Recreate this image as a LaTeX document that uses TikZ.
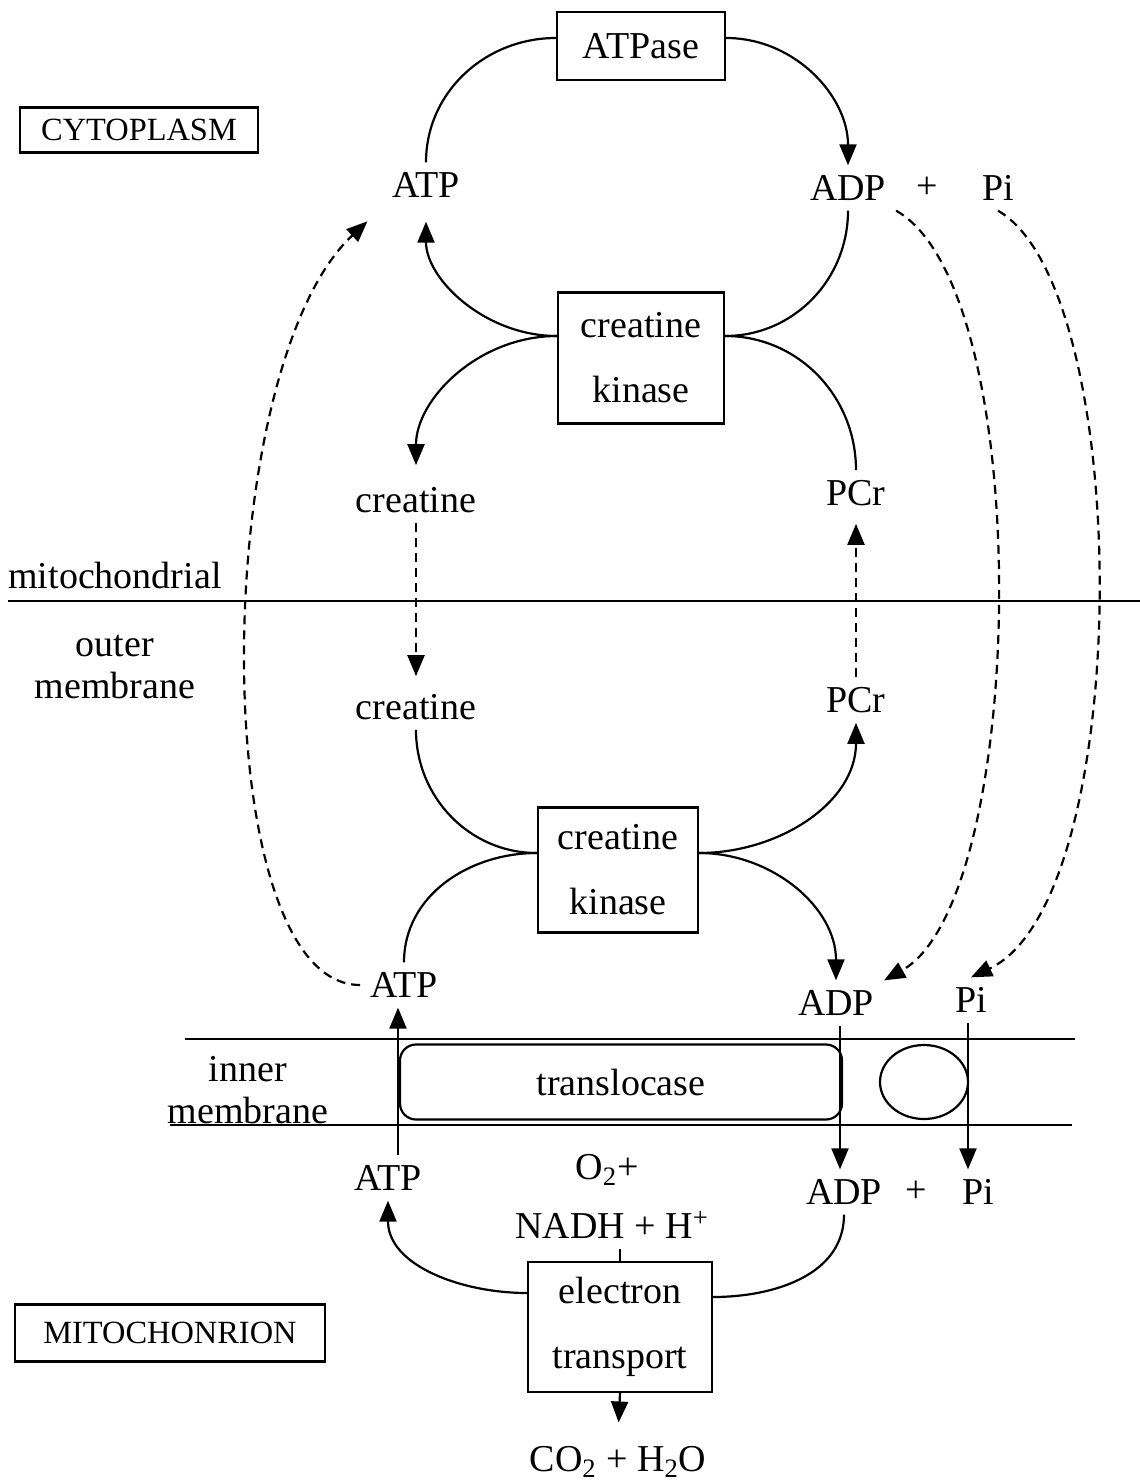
\documentclass[tikz,border=0pt]{standalone}
\usepackage{fontspec}
\setmainfont{Liberation Serif}
\usetikzlibrary{positioning, shapes.geometric, arrows.meta}

\begin{document}
\begin{tikzpicture}[
        x=0.5pt, y=-0.5pt,
        line width=1.1pt,
        every node/.style={font=\fontsize{19}{22}\selectfont},
        chem/.style={inner sep=4.5pt},
        enzyme/.style={rectangle, draw, align=center, font=\fontsize{19}{32.5}\selectfont},
        region/.style={rectangle, draw, font=\fontsize{16.2}{19}\selectfont},
        side/.style={align=center, font=\fontsize{19}{21}\selectfont},
        flow/.style={-{Triangle[length=10.5pt,width=8.5pt]}},
        dflow/.style={flow, dash pattern=on 4.5pt off 3pt},
    ]
        \useasboundingbox (0,0) rectangle (1140,1483);

        % Cytoplasm
        \node[region, minimum width=119pt, minimum height=22.5pt] (cyto) at (139,130) {CYTOPLASM};
        \node[enzyme, minimum width=84pt, minimum height=34pt] (atpase) at (641,46) {ATPase};
        \node[chem] (atpT) at (426,185) {ATP};
        \node[chem] (adpT) at (848,188) {ADP};
        \node[chem] (plusT) at (927,188) {+};
        \node[chem] (piT) at (998,188) {Pi};
        \node[enzyme, minimum width=83pt, minimum height=65.5pt] (ckT) at (641,358) {creatine\\kinase};
        \node[chem] (crT) at (416,500) {creatine};
        \node[chem] (pcrT) at (856,493) {PCr};

        % Outer membrane
        \draw (8,601) -- (1140,601);
        \node (outerTop) at (115,575) {mitochondrial};
        \node[side] (outer) at (115,667) {outer\\membrane};
        \node[chem] (crL) at (416,707) {creatine};
        \node[chem] (pcrL) at (856,700) {PCr};
        \node[enzyme, minimum width=80pt, minimum height=62.5pt] (ckL) at (618,870) {creatine\\kinase};
        \node[chem] (atpL) at (404,985) {ATP};
        \node[chem] (adpL) at (836,1003) {ADP};
        \node[chem] (piL) at (971,1000) {Pi};

        % Inner membrane
        \draw (185,1039) -- (1075,1039);
        \draw (170,1125) -- (1072,1125);
        \node[side] (inner) at (248,1090) {inner\\membrane};
        \node[draw, rounded corners=8pt, minimum width=221pt, minimum height=37.5pt] (transloc) at (621,1082) {translocase};
        \node[draw, ellipse, inner sep=0pt, minimum width=44pt, minimum height=37pt] (carrier) at (924,1082) {};

        % Mitochondrion
        \node[chem] (atpB) at (388,1178) {ATP};
        \node[chem] (o2) at (607,1170) {O\textsubscript{2}+};
        \node[chem] (nadh) at (612,1225) {NADH + H\textsuperscript{+}};
        \node[chem] (adpB) at (844,1192) {ADP};
        \node[chem] (plusB) at (916,1192) {+};
        \node[chem] (piB) at (978,1192) {Pi};
        \node[enzyme, minimum width=92pt, minimum height=65pt] (etc) at (620,1327) {electron\\transport};
        \node[chem] (co2) at (618,1462) {CO\textsubscript{2} + H\textsubscript{2}O};
        \node[region, minimum width=155pt, minimum height=28.5pt] (mito) at (170,1333) {MITOCHONRION};

        % Reactions
        \coordinate (ckTw) at ([yshift=11pt]ckT.west);
        \coordinate (ckTe) at ([yshift=11pt]ckT.east);
        \coordinate (ckLw) at ([yshift=8.5pt]ckL.west);
        \coordinate (ckLe) at ([yshift=8.5pt]ckL.east);
        \coordinate (etcW) at ([yshift=17pt]etc.west);
        \coordinate (etcE) at ([yshift=15pt]etc.east);

        \draw (atpT.north) to[out=90, in=180] ([yshift=4pt]atpase.west);
        \draw[flow] ([yshift=4pt]atpase.east) to[out=0, in=90] (adpT.north);
        \draw[flow, shorten >=7pt] (ckTw) to[out=180, in=-90] (atpT.south);
        \draw[flow, shorten >=6pt] (ckTw) to[out=180, in=90] (crT.north);
        \draw (ckTe) to[out=0, in=-90] (adpT.south);
        \draw (ckTe) to[out=0, in=90] (pcrT.north);

        \draw[dflow, shorten >=4pt] (crT.south) -- (crL.north);
        \draw[dflow, shorten >=4pt] (pcrL.north) -- (pcrT.south);

        \draw (crL.south) to[out=-90, in=180] (ckLw);
        \draw[flow] (ckLe) to[out=0, in=-90] (pcrL.south);
        \draw (ckLw) to[out=180, in=90] (atpL.north);
        \draw[flow] (ckLe) to[out=0, in=90] (adpL.north);

        % Transport
        \draw[dflow, shorten >=10pt] (atpL.west) .. controls (205,985) and (208,370) .. (atpT.south west);
        \draw[dflow] (adpT.south east) .. controls (1037,290) and (1028,900) .. (adpL.north east);
        \draw[dflow] (piT.south) .. controls (1135,290) and (1135,900) .. (piL.north);

        \draw[flow] ([xshift=5pt]atpB.north) -- ([xshift=-3pt]atpL.south);
        \draw[flow] ([xshift=2pt]adpL.south) -- ([xshift=-2pt]adpB.north);
        \draw[flow] ([xshift=-1.5pt]piL.south) -- ([xshift=-1.5pt]piL.south |- piB.north);

        \draw[flow] (etcW) to[out=180, in=-90] (atpB.south);
        \draw (etcE) to[out=0, in=-90] (adpB.south);
        \draw (etc.north |- nadh.south) -- (etc.north);
        \draw[flow, shorten >=7pt] (etc.south) -- (co2.north);
\end{tikzpicture}
\end{document}
